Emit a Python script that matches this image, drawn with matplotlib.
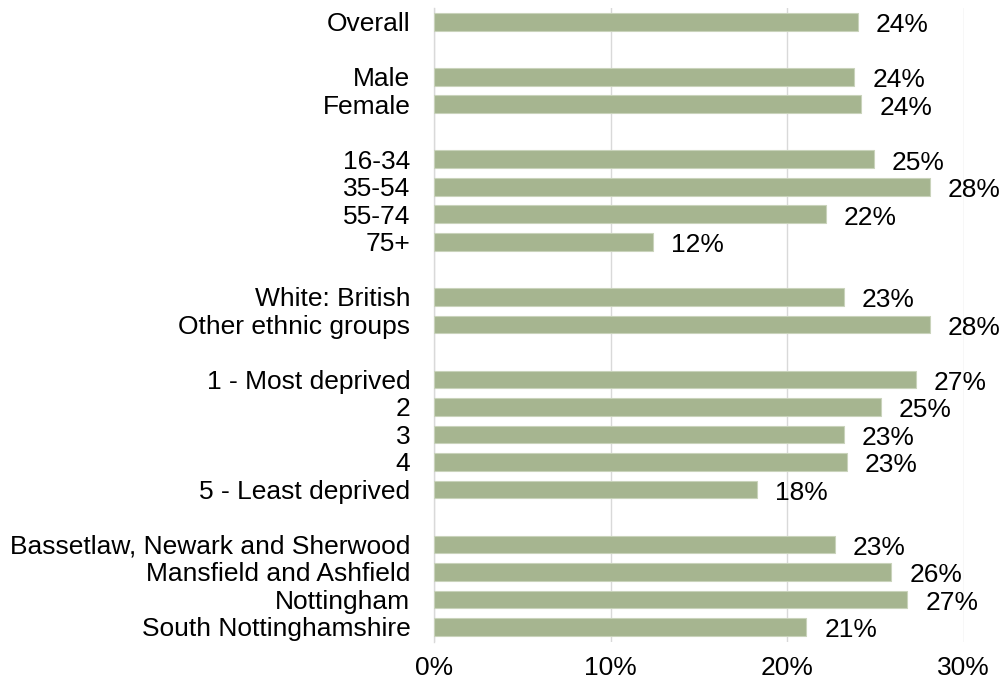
import numpy as np
import matplotlib
matplotlib.use('Agg')
import matplotlib.pyplot as plt
from matplotlib.ticker import PercentFormatter

# groups of categories, drawn top to bottom with an empty slot between groups
groups = [
    ['Overall'],
    ['Male', 'Female'],
    ['16-34', '35-54', '55-74', '75+'],
    ['White: British', 'Other ethnic groups'],
    ['1 - Most deprived', '2', '3', '4', '5 - Least deprived'],
    ['Bassetlaw, Newark and Sherwood', 'Mansfield and Ashfield', 'Nottingham', 'South Nottinghamshire'],
]
values = [
    [24.0],
    [23.8, 24.2],
    [24.9, 28.1, 22.2, 12.4],
    [23.2, 28.1],
    [27.3, 25.3, 23.2, 23.4, 18.3],
    [22.7, 25.9, 26.8, 21.1],
]

plt.rcParams['font.family'] = ['Liberation Sans', 'DejaVu Sans']
fs = 19

labels, vals, pos = [], [], []
slot = 0
for g, v in zip(groups, values):
    for name, val in zip(g, v):
        labels.append(name)
        vals.append(val)
        pos.append(slot)
        slot += 1
    slot += 1

fig = plt.figure(figsize=(10.01, 6.84), dpi=100)
ax = fig.add_axes([0.4336, 0.0614, 0.529, 0.9269])

ax.barh(pos, vals, height=0.64, color='#A6B590', edgecolor='#C9D3BB', linewidth=0.8, zorder=3)
for p, v in zip(pos, vals):
    ax.annotate(f'{v:.0f}%', (v, p), xytext=(13, -2.5), textcoords='offset points',
                va='center', ha='left', fontsize=fs, color='black', clip_on=False)

ax.set_xlim(0, 30)
ax.set_ylim(22.55, -0.5)
ax.set_xticks([0, 10, 20, 30])
ax.xaxis.set_major_formatter(PercentFormatter(decimals=0))
ax.set_yticks(pos)
ax.set_yticklabels(labels)
ax.tick_params(axis='y', length=0, pad=17, labelsize=fs)
ax.tick_params(axis='x', length=0, pad=10, labelsize=fs)
ax.grid(axis='x', color='#D9D9D9', linewidth=1, zorder=0)
for s in ['top', 'right', 'bottom']:
    ax.spines[s].set_visible(False)
ax.spines['left'].set_color('#D9D9D9')
ax.spines['left'].set_linewidth(1)

fig.savefig('out.png', dpi=100)
